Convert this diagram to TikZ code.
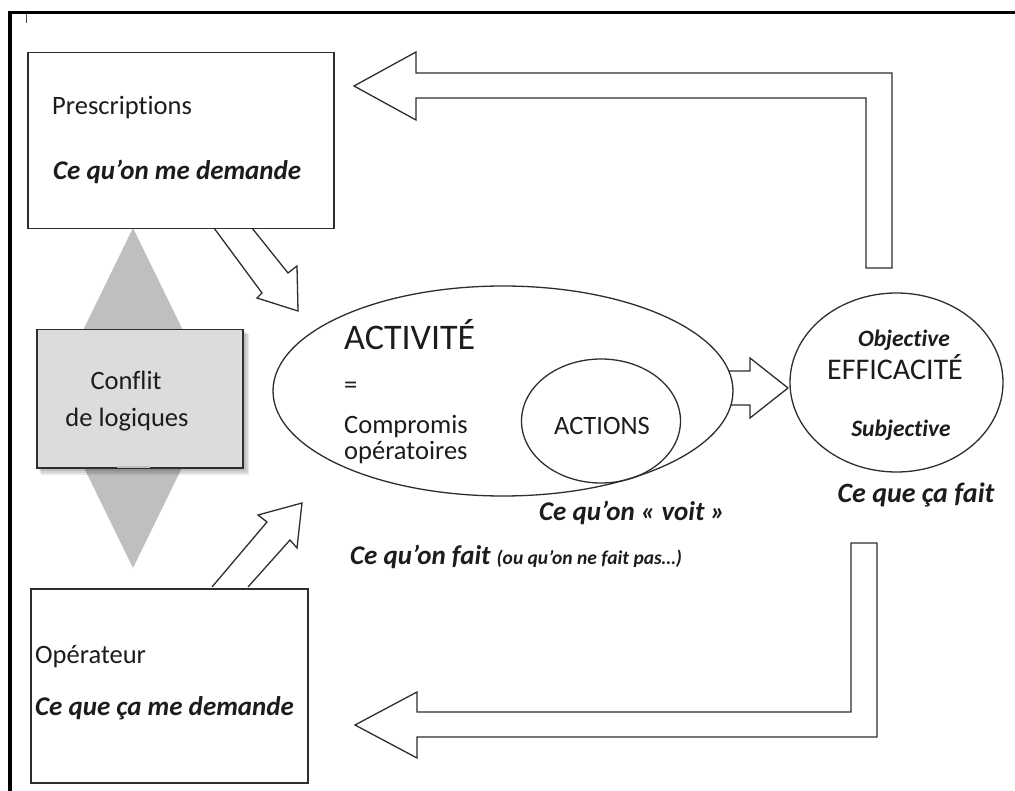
\documentclass[tikz,border=0pt]{standalone}
\usepackage{fontspec}
\setmainfont{Carlito}[Ligatures=NoCommon]
\usetikzlibrary{shapes.geometric}
\definecolor{ln}{HTML}{2E2E2E}
\definecolor{tri}{HTML}{BFBFBF}
\definecolor{cfill}{HTML}{DCDCDC}
\definecolor{txt}{HTML}{1C1C1C}
\newcommand\fsN{\fontsize{26.5}{26.5}\selectfont}
\newcommand\fsB{\fontsize{27}{27}\selectfont\bfseries\itshape}
\newcommand\fsS{\fontsize{23.5}{23.5}\selectfont\bfseries\itshape}
\newcommand\fsT{\fontsize{19.5}{19.5}\selectfont\bfseries\itshape}
\tikzset{
  box/.style={draw=ln, line width=1.5pt, fill=white, inner sep=0pt, anchor=north west},
  oval/.style={draw=ln, line width=1.3pt, ellipse, inner sep=0pt},
  blk/.style={draw=ln, line width=1.3pt, fill=white, line join=miter},
  lbl/.style={inner sep=0pt, anchor=base west, text=txt},
  clbl/.style={inner sep=0pt, anchor=base, text=txt},
  shade/.style={fill=black, opacity=0.09}
}
\begin{document}
\begin{tikzpicture}[x=1pt,y=-1pt]
\useasboundingbox (0,0) rectangle (1015,791);
\fill[white] (0,0) rectangle (1015,791);
% frame
\draw[line width=3.8pt, black] (9.7,791) -- (9.7,12.5) -- (1015,12.5);
\draw[line width=1pt, black!70] (26,14) -- (26,23);
% grey diamond behind the conflict box
\fill[tri] (133,228) -- (216,398) -- (133,568) -- (50,398) -- cycle;
% block arrows
\draw[blk] (214,228) -- (262,293) -- (257,298) -- (298,311) -- (297,266) -- (288,273) -- (252,228);
\draw[blk] (212,587) -- (267,522) -- (258,515) -- (302,503) -- (297,548) -- (290,540) -- (248,587);
\draw[blk] (729,371) -- (750,371) -- (750,358) -- (788,388) -- (750,418) -- (750,405) -- (729,405);
\draw[blk] (866,268) -- (866,98) -- (416,98) -- (416,120) -- (354,86) -- (416,52) -- (416,73) -- (892,73) -- (892,268) -- cycle;
\draw[blk] (851,543) -- (877,543) -- (877,737) -- (417,737) -- (417,758) -- (355,725) -- (417,692) -- (417,712) -- (851,712) -- cycle;
% boxes
\node[box, minimum width=306pt, minimum height=176pt] (presc) at (27,52) {};
\node[box, minimum width=277pt, minimum height=194pt] (oper) at (30,588) {};
\fill[shade] (38,331) rectangle (244,469);
\fill[shade] (39,332) rectangle (246,471);
\fill[shade] (40,333) rectangle (248,473);
\fill[shade] (41,334) rectangle (249,475);
\node[box, fill=cfill, minimum width=206pt, minimum height=138pt] (conf) at (36,329) {};
\draw[tri, line width=2pt] (117,467) -- (150,467);
% ellipses
\node[oval, fill=white, minimum width=460pt, minimum height=210pt] (act) at (503,391) {};
\node[oval, minimum width=159pt, minimum height=124pt] (actions) at (601,421) {};
\node[oval, fill=white, minimum width=213pt, minimum height=179pt] (eff) at (896.5,382.5) {};
% texts
\node[lbl] (t1) at (52,115) {\fsN Prescriptions};
\node[lbl] (t2) at (53,180) {\fsB Ce qu’on me demande};
\node[lbl] (t3) at (35,663) {\fsN Opérateur};
\node[lbl] (t4) at (35,715) {\fsB Ce que ça me demande};
\node[clbl] (t5) at (126,390) {\fsN Conflit};
\node[clbl] (t6) at (127,427) {\fsN de logiques};
\node[lbl] (t7) at (344,350) {\fontsize{36}{36}\selectfont ACTIVITÉ};
\node[lbl] (t8) at (344,394) {\fsN =};
\node[lbl] (t9) at (344,434) {\fsN Compromis};
\node[lbl] (t10) at (344,460) {\fsN opératoires};
\node[clbl] (t11) at (602,435) {\fsN ACTIONS};
\node[lbl] (t12) at (539,520) {\fsB Ce qu’on «~voit~»};
\node[lbl] (t13) at (350,564) {\fsB Ce qu’on fait {\fsT (ou qu’on ne fait pas…)}};
\node[clbl] (t14) at (904,347) {\fsS Objective};
\node[clbl] (t15) at (895,380) {\fontsize{30}{30}\selectfont EFFICACITÉ};
\node[clbl] (t16) at (901,437) {\fsS Subjective};
\node[clbl] (t17) at (916,502) {\fontsize{28}{28}\selectfont\bfseries\itshape Ce que ça fait};
\end{tikzpicture}
\end{document}
